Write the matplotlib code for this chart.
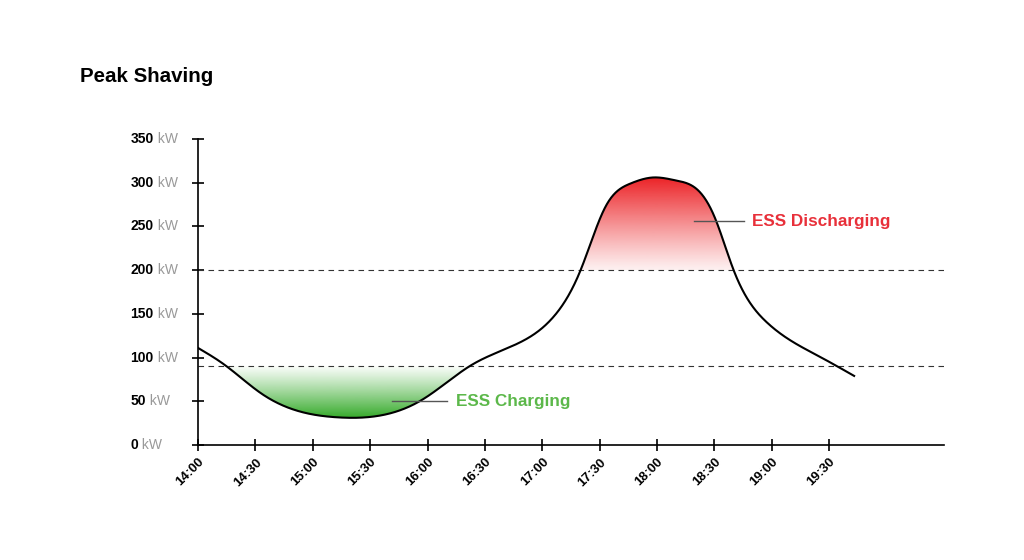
import numpy as np
import matplotlib
matplotlib.use("Agg")
import matplotlib.pyplot as plt
from matplotlib.colors import LinearSegmentedColormap, to_rgba

plt.rcParams["font.family"] = ["Liberation Sans", "DejaVu Sans"]

# =========================
# data
# =========================
times = ["14:00", "14:14", "14:33", "15:13", "15:57", "16:23", "16:48",
         "17:06", "17:20", "17:33", "17:46", "17:58", "18:10", "18:20",
         "18:30", "18:40", "18:57", "19:25", "19:43"]
load_kw = [111, 91.5, 59, 31.6, 51.5, 91.5, 117,
           147, 200, 272.5, 299, 306, 302.5, 294,
           261, 200, 141, 101, 79]

tick_labels = ["14:00", "14:30", "15:00", "15:30", "16:00", "16:30",
               "17:00", "17:30", "18:00", "18:30", "19:00", "19:30"]
y_ticks = [0, 50, 100, 150, 200, 250, 300, 350]

charge_limit = 90
discharge_limit = 200


def to_hours(t):
    h, m = t.split(":")
    return int(h) + int(m) / 60.0


def natural_spline(x, y, xs):
    # smooth line through the read points (drawing only)
    x = np.asarray(x, float)
    y = np.asarray(y, float)
    n = len(x)
    h = np.diff(x)
    A = np.zeros((n, n))
    b = np.zeros(n)
    A[0, 0] = A[-1, -1] = 1
    for i in range(1, n - 1):
        A[i, i - 1] = h[i - 1]
        A[i, i] = 2 * (h[i - 1] + h[i])
        A[i, i + 1] = h[i]
        b[i] = 3 * ((y[i + 1] - y[i]) / h[i] - (y[i] - y[i - 1]) / h[i - 1])
    c = np.linalg.solve(A, b)
    bb = (y[1:] - y[:-1]) / h - h * (2 * c[:-1] + c[1:]) / 3
    d = (c[1:] - c[:-1]) / (3 * h)
    idx = np.clip(np.searchsorted(x, xs) - 1, 0, n - 2)
    t = xs - x[idx]
    return y[idx] + bb[idx] * t + c[idx] * t**2 + d[idx] * t**3


x = np.array([to_hours(t) for t in times])
xs = np.linspace(x[0], x[-1], 1500)
ys = natural_spline(x, load_kw, xs)

# =========================
# plot
# =========================
fig = plt.figure(figsize=(10.24, 5.6), dpi=100)
ax = fig.add_axes([0.1934, 0.2054, 0.7285, 0.5464])


def gradient_fill(mask, lo, hi, color, top_strong, a0):
    base = lo if top_strong else hi
    poly = ax.fill_between(xs, np.where(mask, ys, base), base, where=mask,
                           color="none", lw=0)
    r, g, b_, _ = to_rgba(color)
    cmap = LinearSegmentedColormap.from_list(
        "grad", [(r, g, b_, a0), (r, g, b_, 1)])
    grad = np.linspace(0, 1, 256).reshape(-1, 1)
    if not top_strong:
        grad = grad[::-1]
    img = ax.imshow(grad ** 1.1, cmap=cmap, aspect="auto", origin="lower",
                    extent=[14, 20.5, lo, hi], zorder=1)
    img.set_clip_path(poly.get_paths()[0], transform=ax.transData)


# charging: load below the lower limit
gradient_fill(ys < charge_limit, ys.min(), charge_limit, "#35aa2a", False, 0.03)
# discharging: load above the upper limit
gradient_fill(ys > discharge_limit, discharge_limit, ys.max(), "#ec2226", True, 0.07)

ax.set_xlim(14, 20.5)
ax.set_ylim(0, 350)

ax.plot(xs, ys, color="black", lw=1.5, zorder=3)

for lim in (charge_limit, discharge_limit):
    ax.axhline(lim, color="#333333", lw=0.8, dashes=(5, 4), zorder=2)

# annotations
ax.plot([15.69, 16.17], [50, 50], color="#555555", lw=1, zorder=4)
ax.text(16.25, 50, "ESS Charging", color="#5cb84a", fontsize=12.3,
        fontweight="bold", va="center", ha="left")
ax.plot([18.32, 18.76], [256, 256], color="#555555", lw=1, zorder=4)
ax.text(18.83, 256, "ESS Discharging", color="#e8303a", fontsize=12.3,
        fontweight="bold", va="center", ha="left")

# axes styling
for s in ("top", "right"):
    ax.spines[s].set_visible(False)
for s in ("left", "bottom"):
    ax.spines[s].set_linewidth(1.2)

ax.set_xticks([to_hours(t) for t in tick_labels])
ax.set_xticklabels(tick_labels, rotation=45, ha="right",
                   rotation_mode="anchor", fontsize=9.5, fontweight="bold")
ax.tick_params(axis="x", direction="inout", length=8, width=1.2, pad=4)

ax.set_yticks(y_ticks)
ax.set_yticklabels([])
ax.tick_params(axis="y", direction="inout", length=8, width=1.2)

for v in y_ticks:
    num = ax.text(-0.0905, v, str(v), transform=ax.get_yaxis_transform(),
                  fontsize=10, fontweight="bold", ha="left", va="center")
    ax.annotate(" kW", xy=(1, 0.5), xycoords=num, fontsize=10,
                color="#999999", ha="left", va="center")

fig.text(80 / 1024, 1 - 77 / 560, "Peak Shaving", fontsize=14.8,
         fontweight="bold", ha="left", va="center")

fig.savefig("out.png", dpi=100)
plt.close(fig)
